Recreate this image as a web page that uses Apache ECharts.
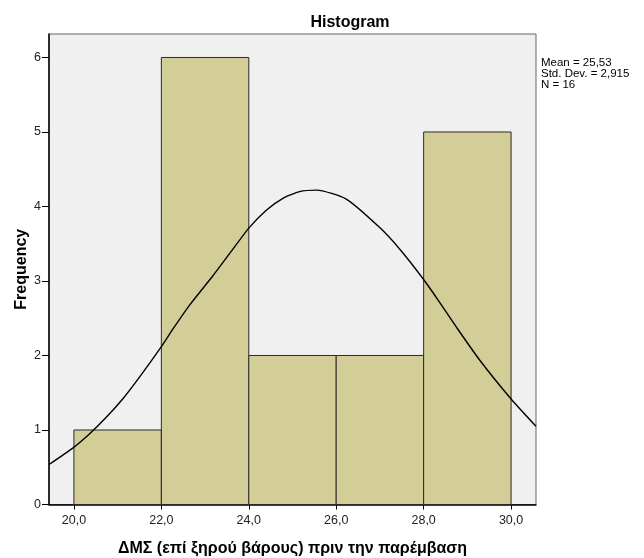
<!DOCTYPE html>
<html>
<head>
<meta charset="utf-8">
<script src="https://cdn.jsdelivr.net/npm/echarts@6/dist/echarts.min.js"></script>
<style>
html,body{margin:0;padding:0;background:#fff;}
#c{width:644px;height:558px;}
</style>
</head>
<body>
<div id="c"></div>
<script>
var binStart = [20, 22, 24, 26, 28];
var binEnd = [22, 24, 26, 28, 30];
var counts = [1, 6, 2, 2, 5];
var xTicks = [20, 22, 24, 26, 28, 30];
var yTicks = [0, 1, 2, 3, 4, 5, 6];
var curveX = [19.44, 19.98, 20.36, 20.74, 21.12, 21.50, 22.00, 22.27, 22.65, 23.18, 23.64, 24.00, 24.40, 24.78, 25.16, 25.55, 26.23, 26.99, 27.45, 28.00, 28.37, 28.75, 29.28, 30.01, 30.57];
var curveY = [0.54, 0.76, 0.95, 1.17, 1.42, 1.71, 2.12, 2.36, 2.68, 3.07, 3.43, 3.71, 3.95, 4.11, 4.20, 4.22, 4.10, 3.72, 3.43, 3.02, 2.71, 2.38, 1.94, 1.41, 1.05];
var statLines = ['Mean = 25,53', 'Std. Dev. = 2,915', 'N = 16'];
var titleText = 'Histogram';
var xTitle = 'ΔΜΣ (επί ξηρού βάρους) πριν την παρέμβαση';
var yTitle = 'Frequency';

var barData = binStart.map(function (s, i) { return [s, binEnd[i], counts[i]]; });
var curveData = curveX.map(function (x, i) { return [x, curveY[i]]; });

var FONT = 'Liberation Sans, Arial, sans-serif';
var chart = echarts.init(document.getElementById('c'), null, { renderer: 'canvas' });
chart.setOption({
  animation: false,
  backgroundColor: '#fff',
  title: {
    text: titleText, left: 345, top: 10, textAlign: 'center',
    textStyle: { fontFamily: FONT, fontSize: 16, fontWeight: 'bold', color: '#000' }
  },
  grid: {
    left: 49, right: 108, top: 34, bottom: 53.5,
    containLabel: false, outerBoundsMode: 'none',
    show: true, backgroundColor: '#f0f0f0', borderColor: '#666', borderWidth: 1
  },
  xAxis: {
    type: 'value', min: 19.43, max: 30.57,
    name: xTitle, nameLocation: 'middle', nameGap: 36, nameMoveOverlap: false,
    nameTextStyle: { fontFamily: FONT, fontSize: 16, fontWeight: 'bold', color: '#000' },
    axisLine: { show: true, onZero: false, lineStyle: { color: '#000', width: 1.5 } },
    axisTick: { show: true, length: 5, customValues: xTicks, lineStyle: { color: '#000' } },
    axisLabel: {
      customValues: xTicks, margin: 10,
      fontFamily: FONT, fontSize: 12.5, color: '#222',
      formatter: function (v) { return v.toFixed(1).replace('.', ','); }
    },
    splitLine: { show: false }
  },
  yAxis: {
    type: 'value', min: 0, max: 6.315,
    name: yTitle, nameLocation: 'middle', nameGap: 19, nameRotate: 90, nameMoveOverlap: false,
    nameTextStyle: { fontFamily: FONT, fontSize: 16, fontWeight: 'bold', color: '#000' },
    axisLine: { show: true, onZero: false, lineStyle: { color: '#000', width: 1.5 } },
    axisTick: { show: true, length: 7, customValues: yTicks, lineStyle: { color: '#000' } },
    axisLabel: {
      customValues: yTicks, margin: 8,
      fontFamily: FONT, fontSize: 12.5, color: '#222'
    },
    splitLine: { show: false }
  },
  series: [
    {
      type: 'custom',
      data: barData,
      encode: { x: [0, 1], y: 2 },
      renderItem: function (params, api) {
        var p0 = api.coord([api.value(0), api.value(2)]);
        var p1 = api.coord([api.value(1), 0]);
        return {
          type: 'rect',
          shape: { x: p0[0], y: p0[1], width: p1[0] - p0[0], height: p1[1] - p0[1] },
          style: { fill: '#d3ce98', stroke: '#2a2a2a', lineWidth: 1 }
        };
      },
      z: 2
    },
    {
      type: 'line',
      data: curveData,
      smooth: 0.2,
      showSymbol: false,
      symbol: 'none',
      clip: true,
      lineStyle: { color: '#000', width: 1.4 },
      z: 3
    }
  ],
  graphic: statLines.map(function (t, i) {
    return {
      type: 'text', left: 541, top: 57 + i * 11,
      style: { text: t, fontFamily: FONT, fontSize: 11.5, fill: '#000' }
    };
  })
});
</script>
</body>
</html>
